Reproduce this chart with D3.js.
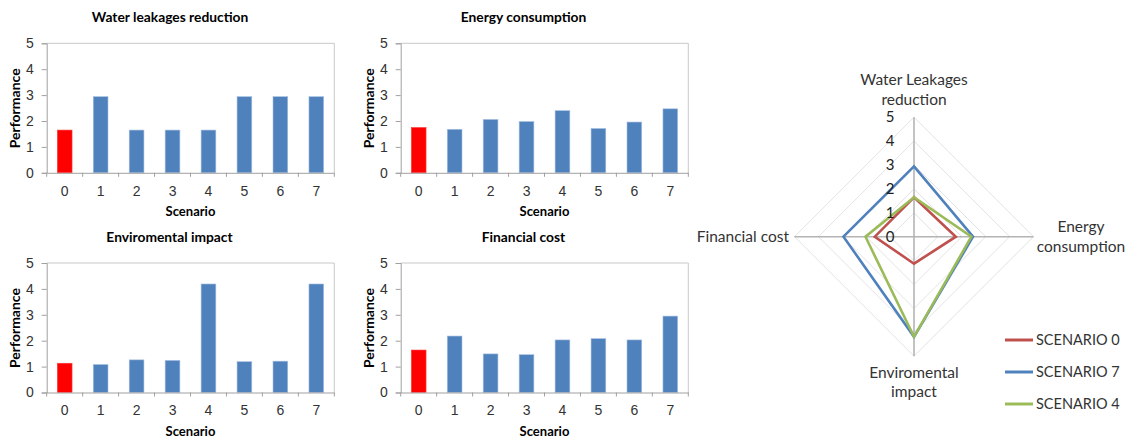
<!DOCTYPE html>
<html>
<head>
<meta charset="utf-8">
<script src="https://cdn.jsdelivr.net/npm/d3@7"></script>
<style>
  body { margin: 0; background: #fff; }
  svg { font-family: Lato, "Open Sans", sans-serif; }
  .tick text { fill: #333; }
</style>
</head>
<body>
<svg id="chart" width="1133" height="439"></svg>
<script>
// data
const scenarios = [0, 1, 2, 3, 4, 5, 6, 7];
const waterLeakages = [1.65, 2.94, 1.65, 1.65, 1.65, 2.94, 2.94, 2.94];
const energyConsumption = [1.75, 1.68, 2.06, 1.98, 2.40, 1.71, 1.96, 2.47];
const enviromentalImpact = [1.13, 1.08, 1.26, 1.24, 4.19, 1.19, 1.21, 4.19];
const financialCost = [1.64, 2.18, 1.49, 1.46, 2.03, 2.08, 2.03, 2.95];
const yTicks = [0, 1, 2, 3, 4, 5];

const radarAxes = ["Water Leakages reduction", "Energy consumption", "Enviromental impact", "Financial cost"];
const radarScenarios = [0, 7, 4];
const radarColors = ["#c0504d", "#4f81bd", "#9bbb59"];

const svg = d3.select("#chart");

const panels = [
    { title: "Water leakages reduction", values: waterLeakages, x0: 46.7, y0: 43.3, titleX: 170, titleY: 17, labelX: 15 },
    { title: "Energy consumption", values: energyConsumption, x0: 400.7, y0: 43.3, titleX: 523.5, titleY: 17, labelX: 369.5 },
    { title: "Enviromental impact", values: enviromentalImpact, x0: 46.7, y0: 263, titleX: 169.5, titleY: 237, labelX: 15 },
    { title: "Financial cost", values: financialCost, x0: 400.7, y0: 263, titleX: 523.5, titleY: 237, labelX: 369.5 }
];
const plotW = 287.6, plotH = 129.5;

function drawBars(p) {
    const g = svg.append("g").attr("transform", `translate(${p.x0},${p.y0})`);

    const x = d3.scaleBand().domain(scenarios).range([0, plotW])
        .paddingInner(0.59).paddingOuter(0.295);
    const y = d3.scaleLinear().domain([0, 5]).range([plotH, 0]);

    // plot border (top + right)
    g.append("path")
        .attr("d", `M0,0H${plotW}V${plotH}`)
        .attr("fill", "none")
        .attr("stroke", "#c8c8c8");

    g.selectAll("rect.bar")
        .data(p.values)
        .join("rect")
        .attr("class", "bar")
        .attr("x", (d, i) => x(scenarios[i]))
        .attr("y", d => y(d))
        .attr("width", x.bandwidth())
        .attr("height", d => plotH - y(d))
        .attr("fill", (d, i) => i === 0 ? "#ff0000" : "#4f81bd")
        .attr("stroke", (d, i) => i === 0 ? "#ff4040" : "#a8c0e0")
        .attr("stroke-width", 0.6);

    const yAxis = g.append("g")
        .call(d3.axisLeft(y).tickValues(yTicks).tickFormat(d3.format("d")).tickSize(5).tickPadding(8));
    yAxis.select(".domain").attr("stroke", "#a0a0a0");
    yAxis.selectAll(".tick line").attr("stroke", "#a0a0a0");
    yAxis.selectAll(".tick text").style("font-size", "14px");

    const xAxis = g.append("g")
        .attr("transform", `translate(0,${plotH})`)
        .call(d3.axisBottom(x).tickSize(0).tickPadding(13));
    xAxis.select(".domain").attr("stroke", "#a0a0a0");
    xAxis.selectAll(".tick text").style("font-size", "14px");

    // category separators below the axis
    g.selectAll("line.sep")
        .data(d3.range(scenarios.length + 1))
        .join("line")
        .attr("class", "sep")
        .attr("x1", i => i * x.step())
        .attr("x2", i => i * x.step())
        .attr("y1", plotH)
        .attr("y2", plotH + 4)
        .attr("stroke", "#a0a0a0");

    svg.append("text")
        .attr("x", p.titleX)
        .attr("y", p.titleY)
        .attr("dy", "0.35em")
        .attr("text-anchor", "middle")
        .style("font-size", "13.8px")
        .style("font-weight", "bold")
        .text(p.title);

    svg.append("text")
        .attr("x", p.x0 + plotW / 2)
        .attr("y", p.y0 + plotH + 38.5)
        .attr("dy", "0.35em")
        .attr("text-anchor", "middle")
        .style("font-size", "13px")
        .style("font-weight", "bold")
        .text("Scenario");

    svg.append("text")
        .attr("transform", `translate(${p.labelX},${p.y0 + 65}) rotate(-90)`)
        .attr("dy", "0.35em")
        .attr("text-anchor", "middle")
        .style("font-size", "14px")
        .style("font-weight", "bold")
        .text("Performance");
}

panels.forEach(drawBars);

// radar chart
const cx = 914, cy = 236.7, radius = 119.5;
const r = d3.scaleLinear().domain([0, 5]).range([0, radius]);
const angle = i => i * Math.PI / 2; // clockwise from top
const pt = (v, i) => [cx + r(v) * Math.sin(angle(i)), cy - r(v) * Math.cos(angle(i))];

const radar = svg.append("g");

radar.selectAll("path.ring")
    .data(yTicks.slice(1))
    .join("path")
    .attr("class", "ring")
    .attr("d", v => d3.line()(radarAxes.map((a, i) => pt(v, i))) + "Z")
    .attr("fill", "none")
    .attr("stroke", "#e3e3e3");

radar.selectAll("line.axis")
    .data(radarAxes)
    .join("line")
    .attr("class", "axis")
    .attr("x1", cx).attr("y1", cy)
    .attr("x2", (d, i) => pt(5, i)[0])
    .attr("y2", (d, i) => pt(5, i)[1])
    .attr("stroke", "#b4b4b4")
    .attr("stroke-width", 1.6);

const allCriteria = [waterLeakages, energyConsumption, enviromentalImpact, financialCost];
const radarSeries = radarScenarios.map(s => allCriteria.map(c => c[s]));

radar.selectAll("path.series")
    .data(radarSeries)
    .join("path")
    .attr("class", "series")
    .attr("d", vals => d3.line()(vals.map((v, i) => pt(v, i))) + "Z")
    .attr("fill", "none")
    .attr("stroke", (d, i) => radarColors[i])
    .attr("stroke-width", 2.6)
    .attr("stroke-linejoin", "miter");

radar.selectAll("text.rtick")
    .data(yTicks)
    .join("text")
    .attr("class", "rtick")
    .attr("x", cx - 24)
    .attr("y", v => cy - r(v))
    .attr("dy", "0.35em")
    .attr("text-anchor", "middle")
    .style("font-size", "15px")
    .attr("fill", "#222")
    .text(d => d);

const axisLabels = [
    { lines: ["Water Leakages", "reduction"], x: 914, y: 80, anchor: "middle" },
    { lines: ["Energy", "consumption"], x: 1081, y: 226.7, anchor: "middle" },
    { lines: ["Enviromental", "impact"], x: 914, y: 372.3, anchor: "middle" },
    { lines: ["Financial cost"], x: 789, y: 236.7, anchor: "end" }
];
axisLabels.forEach(l => {
    const t = radar.append("text")
        .attr("text-anchor", l.anchor)
        .style("font-size", "15.5px")
        .attr("fill", "#333");
    l.lines.forEach((s, k) => {
        t.append("tspan")
            .attr("x", l.x)
            .attr("y", l.y + k * 19.5)
            .attr("dy", "0.35em")
            .text(s);
    });
});

// legend
const legend = svg.append("g").attr("transform", "translate(1005,340)");
radarScenarios.forEach((s, i) => {
    const row = legend.append("g").attr("transform", `translate(0,${i * 32})`);
    row.append("line")
        .attr("x1", 0).attr("x2", 28)
        .attr("stroke", radarColors[i])
        .attr("stroke-width", 3);
    row.append("text")
        .attr("x", 31)
        .attr("dy", "0.35em")
        .style("font-size", "14.5px")
        .attr("fill", "#333")
        .text(`SCENARIO ${s}`);
});
</script>
</body>
</html>
